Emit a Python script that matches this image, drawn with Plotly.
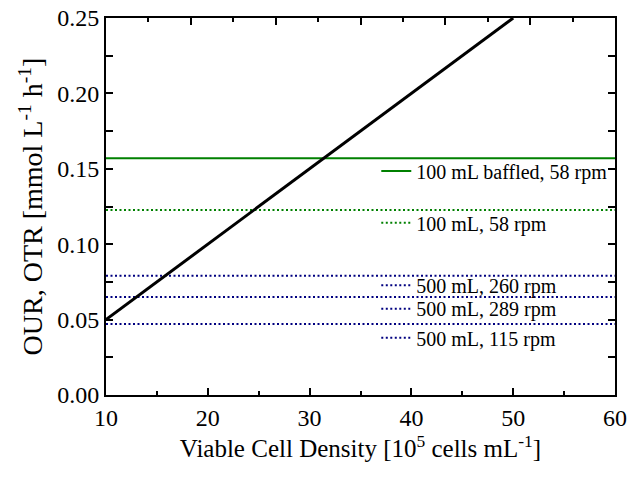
import plotly.graph_objects as go

# Oxygen uptake rate of the culture versus viable cell density
vcd = [10, 50]                      # 10^5 cells/mL
our = [0.05, 0.25]                  # mmol L^-1 h^-1

# Oxygen transfer rates of the shake-flask set-ups (constant lines)
flask_labels = ["100 mL baffled, 58 rpm", "100 mL, 58 rpm",
                "500 mL, 260 rpm", "500 mL, 289 rpm", "500 mL, 115 rpm"]
flask_otr = [0.157, 0.1227, 0.079, 0.065, 0.047]
x_span = [10, 60]

GREEN = "#008000"
NAVY = "#000080"
FONT = "Liberation Serif, Times New Roman, serif"

styles = [
    dict(color=GREEN, width=2, dash="solid"),
    dict(color=GREEN, width=2, dash="2px,2.5px"),
    dict(color=NAVY, width=2, dash="2px,2.5px"),
    dict(color=NAVY, width=2, dash="2px,2.5px"),
    dict(color=NAVY, width=2, dash="2px,2.5px"),
]
legend_ids = ["legend", "legend2", "legend3", "legend4", "legend5"]
legend_y = [0.594, 0.457, 0.291, 0.229, 0.152]

fig = go.Figure()
for label, otr, st, lg in zip(flask_labels, flask_otr, styles, legend_ids):
    fig.add_trace(go.Scatter(
        x=x_span, y=[otr, otr], mode="lines", name=label,
        line=st, legend=lg, showlegend=True,
    ))

fig.add_trace(go.Scatter(
    x=vcd, y=our, mode="lines", line=dict(color="black", width=3),
    showlegend=False,
))

# empty trace carrying the tick-only top axis
fig.add_trace(go.Scatter(x=[], y=[], xaxis="x2", yaxis="y",
                         showlegend=False, hoverinfo="skip"))

legend_common = dict(
    x=0.531, xanchor="left", yanchor="middle",
    bgcolor="rgba(0,0,0,0)", borderwidth=0,
    font=dict(family=FONT, size=20, color="black"),
    tracegroupgap=0,
)
layout_legends = {}
for lg, yy in zip(legend_ids, legend_y):
    layout_legends[lg] = dict(legend_common, y=yy)

fig.update_layout(
    width=628, height=480,
    margin=dict(l=106, r=13, t=18, b=85),
    plot_bgcolor="white", paper_bgcolor="white",
    font=dict(family=FONT, color="black"),
    xaxis=dict(
        range=[10, 60], tick0=10, dtick=10, automargin=False,
        ticks="inside", ticklen=7, tickwidth=1.5, tickcolor="black",
        minor=dict(dtick=5, ticks="inside", ticklen=4, tickwidth=1.5, tickcolor="black"),
        showline=True, linecolor="black", linewidth=2, mirror=True,
        showgrid=False, zeroline=False,
        tickfont=dict(size=24, family=FONT),
        title=dict(text="Viable Cell Density [10<sup>5</sup> cells mL<sup>-1</sup>]",
                   font=dict(size=25, family=FONT), standoff=5),
    ),
    xaxis2=dict(
        overlaying="x", side="top", range=[0, 12], tick0=0, dtick=2,
        automargin=False,
        ticks="inside", ticklen=7, tickwidth=1.5, tickcolor="black",
        minor=dict(dtick=1, ticks="inside", ticklen=4, tickwidth=1.5, tickcolor="black"),
        showticklabels=False, showgrid=False, zeroline=False, showline=False,
    ),
    yaxis=dict(
        range=[0, 0.25], tick0=0, dtick=0.05, tickformat=".2f", automargin=False,
        ticks="inside", ticklen=7, tickwidth=1.5, tickcolor="black",
        minor=dict(dtick=0.025, ticks="inside", ticklen=4, tickwidth=1.5, tickcolor="black"),
        showline=True, linecolor="black", linewidth=2, mirror="allticks",
        showgrid=False, zeroline=False,
        tickfont=dict(size=24, family=FONT),
        title=dict(text="OUR, OTR [mmol L<sup>-1</sup> h<sup>-1</sup>]",
                   font=dict(size=28, family=FONT), standoff=6),
    ),
    **layout_legends,
)

fig.write_html("out.html")
